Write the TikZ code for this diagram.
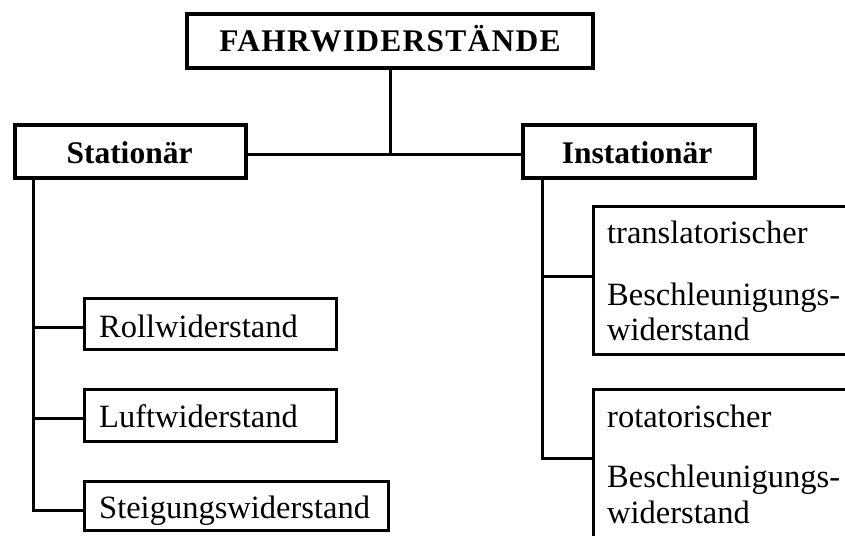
\documentclass[tikz,border=0pt]{standalone}
\usepackage{fontspec}
\setmainfont{Liberation Serif}
\begin{document}
\begin{tikzpicture}[x=1pt,y=-1pt,
  mainbox/.style={draw, rectangle, line width=3.5pt, inner sep=0pt, line join=miter},
  subbox/.style={draw, rectangle, line width=3pt, inner sep=0pt, line join=miter},
  link/.style={line width=3pt},
  headtxt/.style={inner sep=0pt, anchor=base, font=\fontsize{31.5}{34}\selectfont\bfseries},
  itemtxt/.style={inner sep=0pt, anchor=base west, font=\fontsize{32.5}{35}\selectfont}]
\useasboundingbox (0,0) rectangle (845,535);
\clip (0,0) rectangle (845,535);

% boxes
\node[mainbox, minimum width=406pt, minimum height=54pt] (root) at (390,41) {};
\node[mainbox, minimum width=231pt, minimum height=53pt] (stat) at (130.5,151.5) {};
\node[mainbox, minimum width=232pt, minimum height=53pt] (instat) at (639,151.5) {};
\node[subbox, minimum width=252pt, minimum height=51pt] (roll) at (210.5,324) {};
\node[subbox, minimum width=252pt, minimum height=52pt] (luft) at (210.5,415.5) {};
\node[subbox, minimum width=304pt, minimum height=49pt] (steig) at (236.5,506) {};
\node[subbox, minimum width=276.5pt, minimum height=148pt] (trans) at (731.75,280.5) {};
\node[subbox, minimum width=276.5pt, minimum height=150.5pt] (rot) at (731.75,464.75) {};

% labels
\node[headtxt, font=\fontsize{31.5}{34}\selectfont\bfseries\addfontfeature{LetterSpace=4}] (rootT) at (390,52) {FAHRWIDERSTÄNDE};
\node[headtxt] (statT) at (129.5,163) {Stationär};
\node[headtxt] (instatT) at (637,163) {Instationär};
\node[itemtxt] (rollT) at (99,337) {Rollwiderstand};
\node[itemtxt] (luftT) at (99,427) {Luftwiderstand};
\node[itemtxt] (steigT) at (99,518) {Steigungswiderstand};
\node[itemtxt] (transA) at (607,243) {translatorischer};
\node[itemtxt] (transB) at (607,305) {Beschleunigungs-};
\node[itemtxt] (transC) at (607,340) {widerstand};
\node[itemtxt] (rotA) at (607,427) {rotatorischer};
\node[itemtxt] (rotB) at (607,487) {Beschleunigungs-};
\node[itemtxt] (rotC) at (607,523) {widerstand};

% connectors: branch points on the box edges
\coordinate (hub) at (390,154);
\coordinate (lspine) at (33,0);
\coordinate (rspine) at (542,0);
\coordinate (rollIn) at ([yshift=-3pt]roll.west);
\coordinate (luftIn) at ([yshift=-2.5pt]luft.west);
\coordinate (steigIn) at ([yshift=-4pt]steig.west);
\coordinate (transIn) at ([yshift=4.5pt]trans.west);
\coordinate (rotIn) at ([yshift=6.75pt]rot.west);
\draw[link] (root.south) -- (hub);
\draw[link] (stat.east |- hub) -- (instat.west |- hub);
\draw[link] (lspine |- stat.south) |- (steigIn);
\draw[link] (lspine |- rollIn) -- (rollIn);
\draw[link] (lspine |- luftIn) -- (luftIn);
\draw[link] (rspine |- instat.south) |- (rotIn);
\draw[link] (rspine |- transIn) -- (transIn);
\end{tikzpicture}
\end{document}
